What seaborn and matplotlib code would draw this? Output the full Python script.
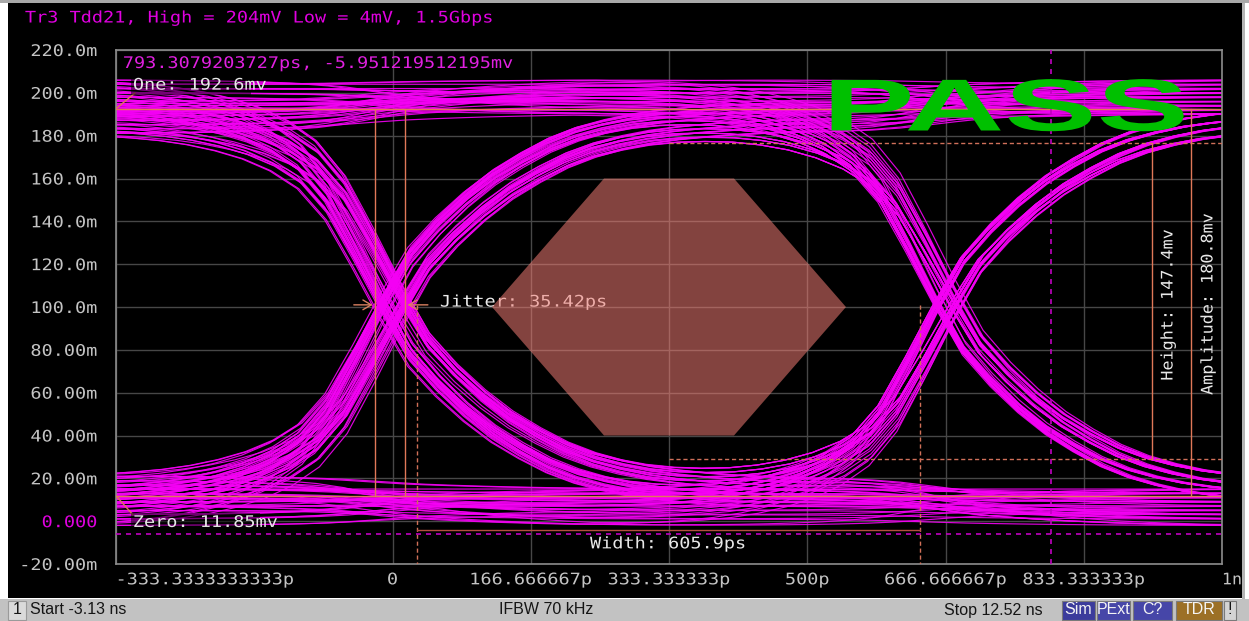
import numpy as np
import pandas as pd
import matplotlib
matplotlib.use("Agg")
import matplotlib.pyplot as plt
import seaborn as sns
from matplotlib.patches import Rectangle
from matplotlib.patheffects import AbstractPathEffect
from matplotlib.transforms import Affine2D

# ---------------- eye diagram data (time in ps, voltage in mV) ----------------
UI_PS = 2000.0 / 3.0            # 1.5 Gbps unit interval
SAMPLE_PS = UI_PS / 20.0        # waveform sample spacing

# normalized edge response, one value per sample from -13 to +13 samples around the crossing
edge_response = [0.000, 0.002, 0.004, 0.007, 0.012, 0.019, 0.030, 0.046, 0.068, 0.100,
                 0.148, 0.232, 0.362, 0.500, 0.625, 0.705, 0.772, 0.828, 0.872, 0.910,
                 0.938, 0.958, 0.973, 0.983, 0.990, 0.995, 0.998]

# bit levels seen at the bit centres
high_after_fast_edge = [189, 191, 193, 195]
high_after_slow_edge = [181, 183, 185, 187]
low_after_fast_edge = [7, 9, 11, 13]
low_after_slow_edge = [15, 17, 19, 21]
high_in_run = [190, 192, 194, 196, 198, 200, 202, 204, 206]
low_in_run = [15, 13, 11, 9, 7, 5, 3, 1, -2]
fast_edge_skew_ps = [-15, -13, -11, -9]
slow_edge_skew_ps = [6, 8, 10, 12]
bit_patterns = ["000", "001", "010", "011", "100", "101", "110", "111"]
traces_per_pattern = 24

# measurement results
one_level = 192.6
zero_level = 11.85
jitter_left_ps, jitter_ps = -20.6, 35.42
width_left_ps, width_ps = 29.5, 605.9
crossing_mv = 101.0
height_bottom_mv, height_mv = 29.1, 147.4
amplitude_mv = 180.8
height_marker_ps, amplitude_marker_ps = 915.6, 962.6
width_line_mv = -4.0
cursor_ps, cursor_mv = 793.3079203727, -5.951219512195

# pass/fail mask (hexagon)
mask_t = [120.0, 255.0, 411.67, 546.67, 411.67, 255.0]
mask_v = [100.0, 160.0, 160.0, 100.0, 40.0, 40.0]

# axis ticks
x_ticks = [-1000 / 3, 0, 500 / 3, 1000 / 3, 500, 2000 / 3, 2500 / 3, 1000]
x_labels = ["-333.3333333333p", "0", "166.666667p", "333.333333p", "500p",
            "666.666667p", "833.333333p", "1n"]
y_ticks = [220, 200, 180, 160, 140, 120, 100, 80, 60, 40, 20, 0, -20]
y_labels = ["220.0m", "200.0m", "180.0m", "160.0m", "140.0m", "120.0m", "100.0m",
            "80.00m", "60.00m", "40.00m", "20.00m", "0.000", "-20.00m"]

TITLE = "Tr3 Tdd21, High = 204mV Low = 4mV, 1.5Gbps"


# ---------------- helpers ----------------
class WideGlyphs(AbstractPathEffect):
    """Stretch text glyphs horizontally (along the baseline)."""

    def __init__(self, sx, anchor="left"):
        super().__init__()
        self.sx = sx
        self.anchor = anchor

    def draw_path(self, renderer, gc, tpath, affine, rgbFace=None):
        ext = tpath.get_extents()
        x0 = {"left": ext.x0, "center": 0.5 * (ext.x0 + ext.x1), "right": ext.x1}[self.anchor]
        local = Affine2D().translate(-x0, 0).scale(self.sx, 1.0).translate(x0, 0)
        renderer.draw_path(gc, tpath, local + affine, rgbFace)


W, H = 1249, 621


def F(x, y):
    return x / W, 1 - y / H


def edge_at(k):
    k = np.asarray(k)
    half = len(edge_response) // 2
    idx = np.clip(k + half, 0, len(edge_response) - 1)
    vals = np.asarray(edge_response)[idx]
    return np.where(k < -half, 0.0, np.where(k > half, 1.0, vals))


def level_pool(bit, prev_bit, fast):
    if bit and prev_bit != bit:
        return high_after_fast_edge if fast else high_after_slow_edge
    if not bit and prev_bit != bit:
        return low_after_fast_edge if fast else low_after_slow_edge
    return high_in_run if bit else low_in_run


# ---------------- build the folded waveform table ----------------
k = np.arange(-17, 38)
rows = []
trace_id = 0
for p, pat in enumerate(bit_patterns):
    a, b, c = (int(ch) for ch in pat)
    for i in range(traces_per_pattern):
        fast = (i % 2 == 0)
        pool_a = (high_after_fast_edge + high_after_slow_edge + high_in_run) if a else \
                 (low_after_fast_edge + low_after_slow_edge + low_in_run)
        pool_b = level_pool(b, a, fast)
        pool_c = level_pool(c, b, fast)
        la = pool_a[(7 * i + p) % len(pool_a)]
        lb = pool_b[(i // 2 + 2 * p) % len(pool_b)]
        lc = pool_c[(5 * i + p + 1) % len(pool_c)]
        skews = fast_edge_skew_ps if fast else slow_edge_skew_ps
        skew = skews[(i // 2 + 3 * p) % len(skews)]
        v = la + (lb - la) * edge_at(k) + (lc - lb) * edge_at(k - 20)
        t = k * SAMPLE_PS + skew
        rows.append(pd.DataFrame({"t": t, "v": v, "trace": trace_id}))
        trace_id += 1
eye = pd.concat(rows, ignore_index=True)

# ---------------- figure ----------------
sns.set_style("dark", rc={"axes.facecolor": "black", "figure.facecolor": "white",
                          "axes.edgecolor": "#8c8c8c", "grid.color": "#474747"})
plt.rcParams["font.family"] = ["DejaVu Sans Mono", "DejaVu Sans"]

fig = plt.figure(figsize=(W / 100, H / 100), dpi=100)
fig.add_artist(Rectangle(F(8, 598), 1234 / W, 595 / H, transform=fig.transFigure,
                         facecolor="black", edgecolor="none", zorder=-2))
fig.add_artist(Rectangle(F(0, 3), 1, 3 / H, transform=fig.transFigure,
                         facecolor="#a8a8a8", edgecolor="none", zorder=-2))
fig.add_artist(Rectangle(F(1242, 599), 3 / W, 596 / H, transform=fig.transFigure,
                         facecolor="#b4b4b4", edgecolor="none", zorder=-2))
fig.add_artist(Rectangle(F(0, 621), 1, 22 / H, transform=fig.transFigure,
                         facecolor="#c2c2c2", edgecolor="none", zorder=-1))

ax = fig.add_axes([116 / W, 57 / H, 1106 / W, 514 / H])
ax.set_facecolor("black")
ax.set_axisbelow(True)
ax.grid(True, color="#474747", lw=1.0)
for s in ax.spines.values():
    s.set_color("#8c8c8c")
    s.set_linewidth(1.2)

sns.lineplot(data=eye, x="t", y="v", units="trace", estimator=None, sort=False,
             color="#f500f5", lw=0.85, alpha=0.9, legend=False, ax=ax)

ax.set_xlim(x_ticks[0], x_ticks[-1])
ax.set_ylim(-20, 220)
ax.set_xlabel("")
ax.set_ylabel("")
ax.set_xticks(x_ticks, x_labels)
ax.set_yticks(y_ticks, y_labels)
ax.tick_params(axis="both", length=0, labelsize=11.5, labelcolor="#c4c4c4")
ax.tick_params(axis="y", pad=13.5)
ax.tick_params(axis="x", pad=6)

for lab in ax.get_yticklabels():
    lab.set_path_effects([WideGlyphs(1.16, "right")])
    if lab.get_text() == "0.000":
        lab.set_color("#e000e0")
xl = ax.get_xticklabels()
for j, lab in enumerate(xl):
    if j == 0:
        lab.set_horizontalalignment("left")
        lab.set_path_effects([WideGlyphs(1.16, "left")])
    elif j == len(xl) - 1:
        lab.set_horizontalalignment("left")
        lab.set_path_effects([WideGlyphs(1.05, "left")])
    else:
        lab.set_path_effects([WideGlyphs(1.16, "center")])

mono = dict(fontsize=11.5, path_effects=[WideGlyphs(1.16, "left")])
SAL = "#e07858"

# one / zero levels
ax.axhline(one_level, color=SAL, lw=1.0, zorder=3)
ax.axhline(zero_level, color=SAL, lw=1.0, zorder=3)
ax.plot([x_ticks[0], -310.4], [one_level, 199.9], color=SAL, lw=1.0, zorder=3)
ax.plot([x_ticks[0], -312.8], [zero_level, 2.9], color=SAL, lw=1.0, zorder=3)
ax.text(-312.8, 203.6, f"One: {one_level:.1f}mv", color="#e8e8e8", ha="left", va="center",
        zorder=5, bbox=dict(facecolor="black", alpha=0.5, edgecolor="none", pad=1.5), **mono)
ax.text(-312.8, -0.6, f"Zero: {zero_level:.2f}mv", color="#e8e8e8", ha="left", va="center",
        zorder=5, bbox=dict(facecolor="black", alpha=0.5, edgecolor="none", pad=1.5), **mono)

# jitter
jitter_right_ps = jitter_left_ps + jitter_ps
for tj in (jitter_left_ps, jitter_right_ps):
    ax.plot([tj, tj], [zero_level, one_level], color=SAL, lw=1.0, zorder=3)
ax.annotate("", xy=(jitter_left_ps, crossing_mv), xytext=(-50, crossing_mv),
            arrowprops=dict(arrowstyle="->,head_length=0.6,head_width=0.35", color="#d98060", lw=1.0),
            zorder=3)
ax.annotate("", xy=(jitter_right_ps, crossing_mv), xytext=(46, crossing_mv),
            arrowprops=dict(arrowstyle="->,head_length=0.6,head_width=0.35", color="#d98060", lw=1.0),
            zorder=3)
ax.text(57.3, 102.3, f"Jitter: {jitter_ps:.2f}ps", color="#ececec", ha="left", va="center",
        zorder=3, **mono)

# eye width
width_right_ps = width_left_ps + width_ps
for tw in (width_left_ps, width_right_ps):
    ax.plot([tw, tw], [crossing_mv, -20], color="#d07058", lw=1.0, ls=(0, (3, 2)), zorder=3)
ax.plot([width_left_ps, width_right_ps], [width_line_mv, width_line_mv], color="#b45040",
        lw=1.0, zorder=3)
ax.text(238.1, -10.6, f"Width: {width_ps:.1f}ps", color="#e8e8e8", ha="left", va="center",
        zorder=5, **mono)

# eye height and amplitude
height_top_mv = height_bottom_mv + height_mv
for hv in (height_bottom_mv, height_top_mv):
    ax.plot([x_ticks[3], x_ticks[-1]], [hv, hv], color="#d0705a", lw=1.0, ls=(0, (3, 2)), zorder=3)
ax.plot([height_marker_ps, height_marker_ps], [height_bottom_mv, height_top_mv], color=SAL,
        lw=1.0, zorder=3)
ax.plot([amplitude_marker_ps, amplitude_marker_ps], [zero_level, zero_level + amplitude_mv],
        color=SAL, lw=1.0, zorder=3)
ax.text(934.9, 101.0, f"Height: {height_mv:.1f}mv", color="#e8e8e8", rotation=90,
        ha="center", va="center", zorder=5, fontsize=11.5,
        path_effects=[WideGlyphs(1.05, "center")])
ax.text(983.1, 101.4, f"Amplitude: {amplitude_mv:.1f}mv", color="#e8e8e8", rotation=90,
        ha="center", va="center", zorder=5, fontsize=11.5,
        path_effects=[WideGlyphs(1.05, "center")])

# marker cursor
ax.axhline(cursor_mv, color="#c000c0", lw=1.2, ls=(0, (3, 3)), zorder=3)
ax.axvline(cursor_ps, color="#c000c0", lw=1.2, ls=(0, (3, 3)), zorder=3)
ax.text(-324.9, 213.7, f"{cursor_ps:.10f}ps, {cursor_mv:.12f}mv", color="#e020e0",
        ha="left", va="center", zorder=5, **mono)

# mask
ax.fill(mask_t, mask_v, color="#f07c74", alpha=0.55, lw=0, zorder=4)

# title and verdict
fig.text(*F(25, 18), TITLE, color="#e000e0", ha="left", va="center", **mono)
fig.text(*F(1006.5, 130.5), "PASS", family="Liberation Sans", weight="bold", fontsize=53,
         color="#00c000", ha="center", va="baseline", zorder=6,
         path_effects=[WideGlyphs(1.88, "center")])

# status bar
fig.add_artist(Rectangle(F(8, 620), 18 / W, 19 / H, transform=fig.transFigure,
                         facecolor="#dadada", edgecolor="#9a9a9a", lw=0.8))
sb = dict(family="Liberation Sans", fontsize=11.5, color="#151515", va="center")
fig.text(*F(13, 610), "1", ha="left", **sb)
fig.text(*F(30, 610), "Start -3.13 ns", ha="left", **sb)
fig.text(*F(546, 610), "IFBW 70 kHz", ha="center", **sb)
fig.text(*F(944, 610), "Stop 12.52 ns", ha="left", **sb)
badges = [("Sim", 1062, 1095, "#3c3c9c"), ("PExt", 1097, 1130, "#4646a8"),
          ("C?", 1133, 1172, "#4646a8"), ("TDR", 1176, 1222, "#9c7026"),
          ("!", 1224, 1236, "#d4d4d4")]
for name, x0, x1, col in badges:
    fig.add_artist(Rectangle(F(x0, 620), (x1 - x0) / W, 19 / H, transform=fig.transFigure,
                             facecolor=col, edgecolor="#7a7a7a", lw=0.8))
    fig.text(*F((x0 + x1) / 2, 610), name, ha="center",
             **{**sb, "color": "#151515" if name == "!" else "#f4f4f4"})

fig.savefig("out.png", dpi=100)
